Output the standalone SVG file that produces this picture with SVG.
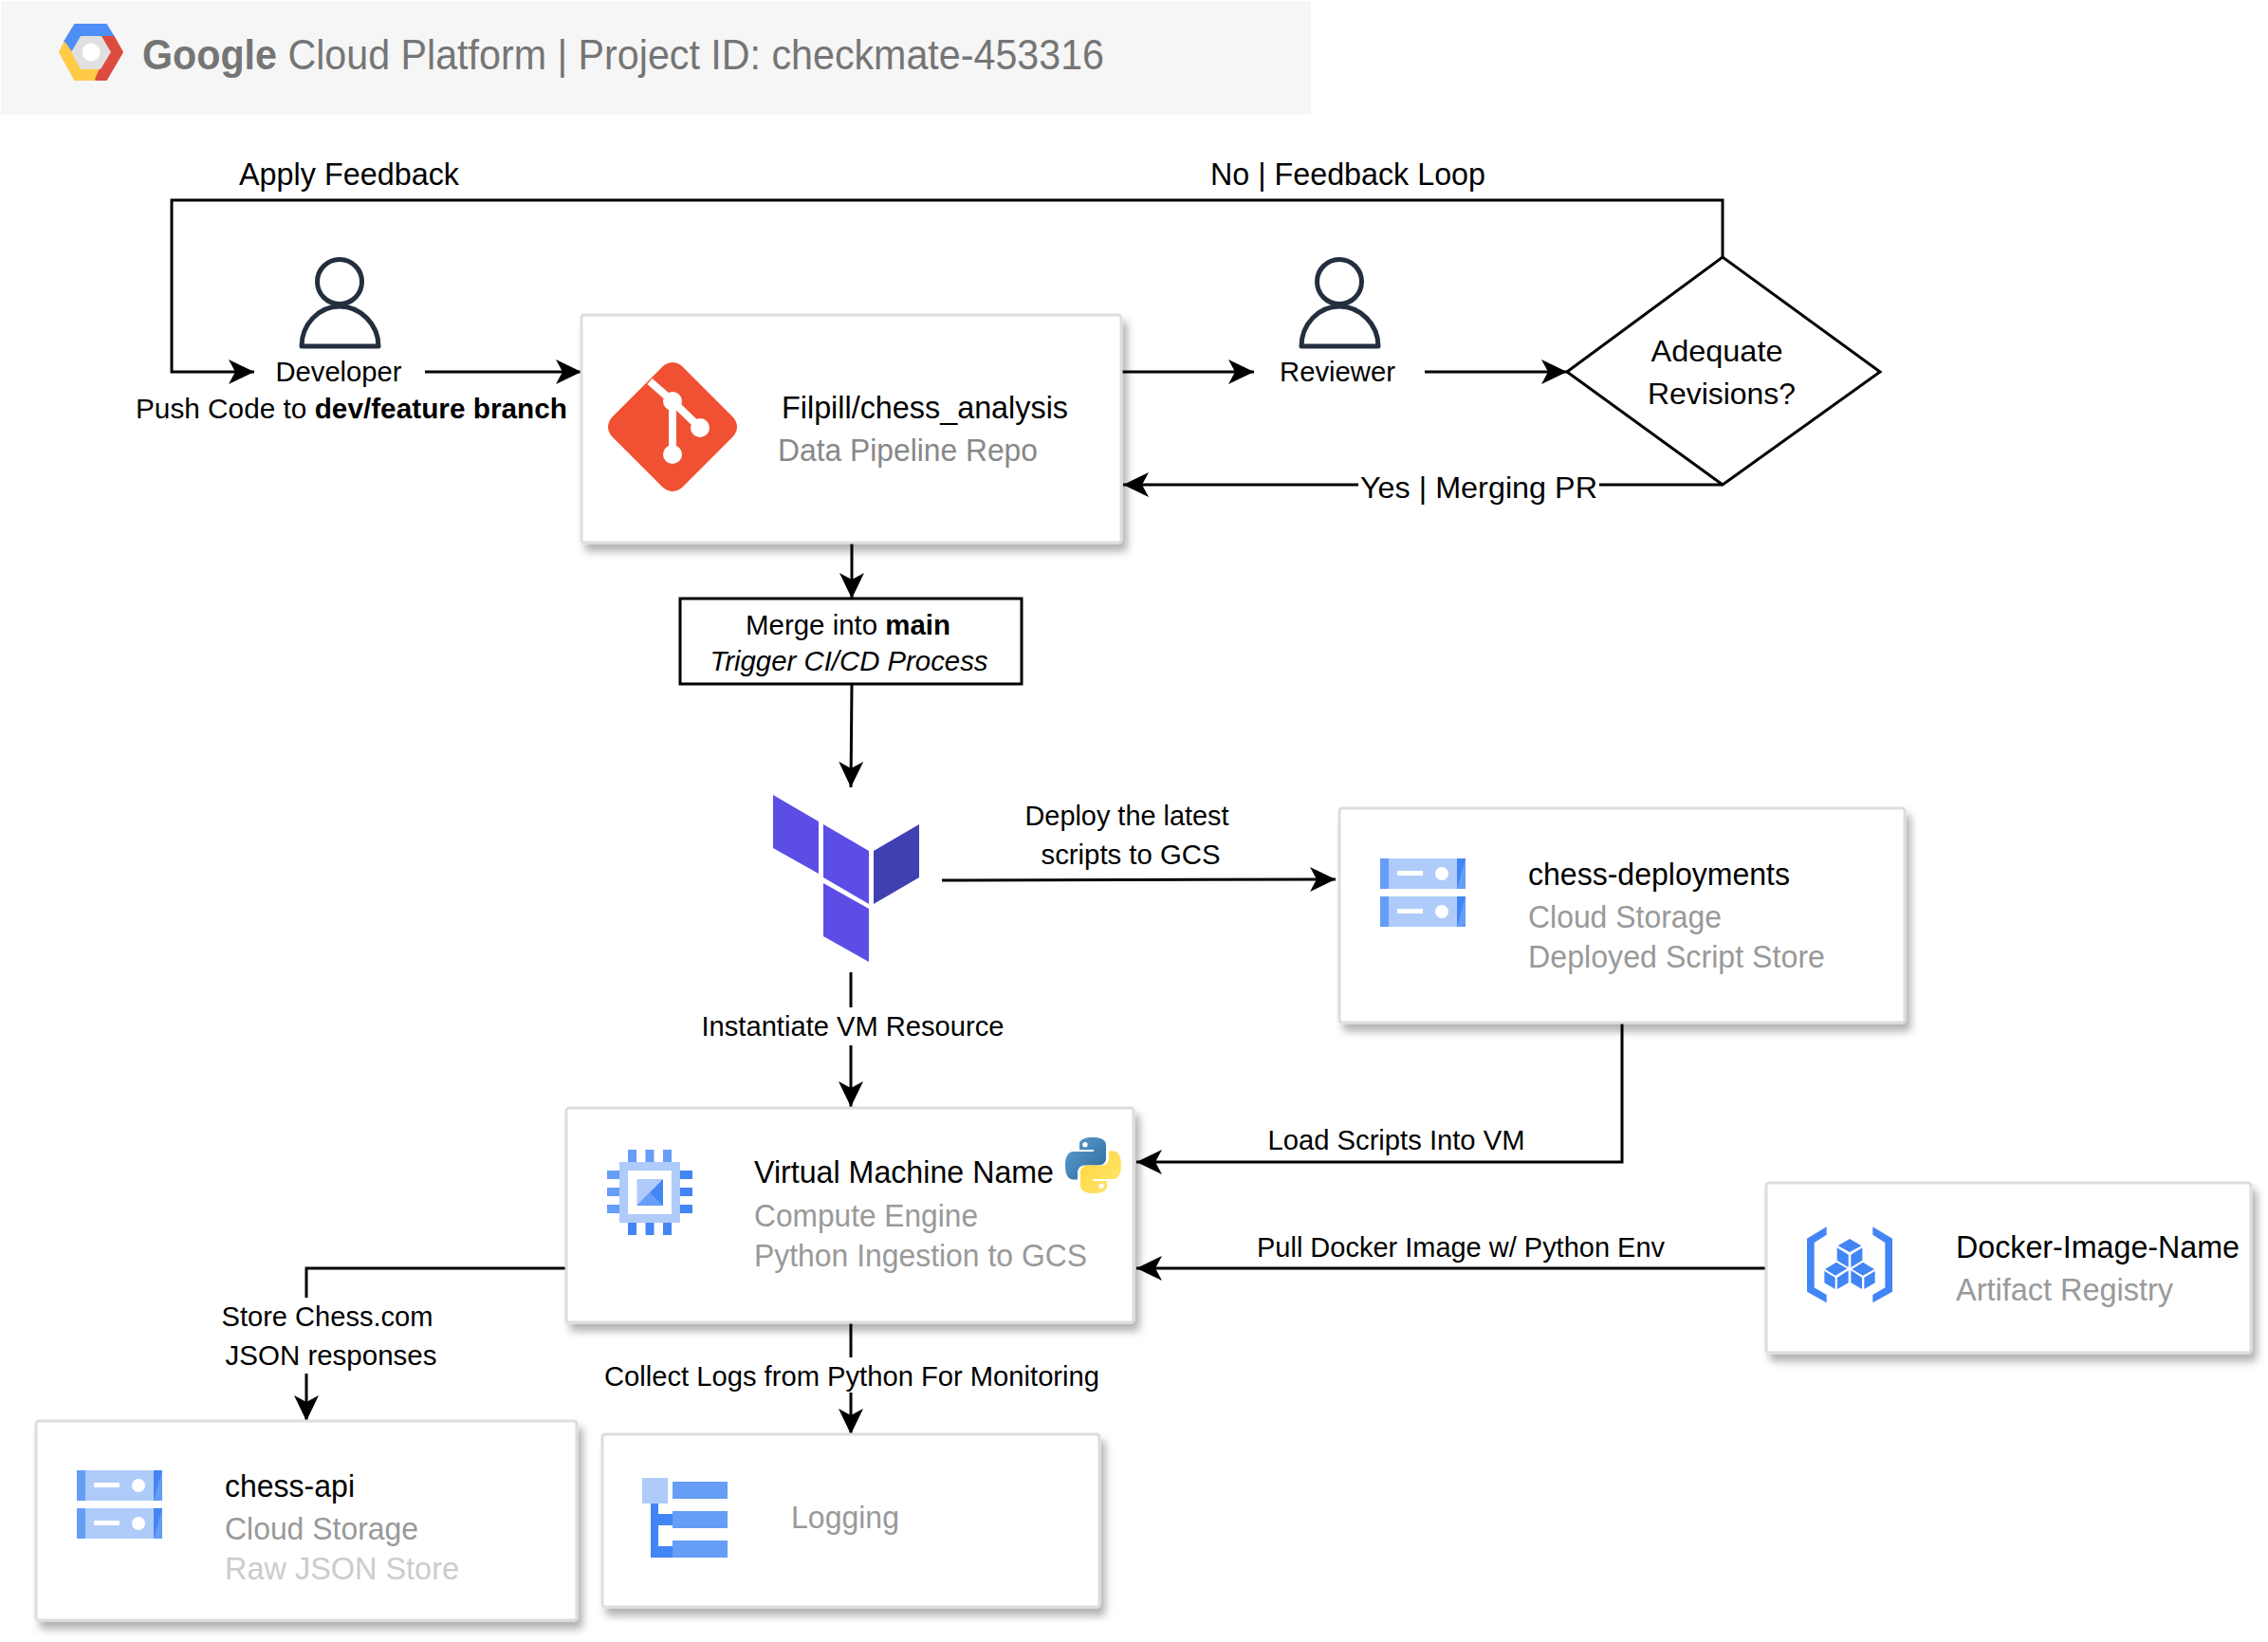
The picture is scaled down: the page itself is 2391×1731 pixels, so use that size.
<svg xmlns="http://www.w3.org/2000/svg" width="2391" height="1731" viewBox="0 0 2391 1731">
<defs>
<style>
text{font-family:"Liberation Sans",Arial,sans-serif;fill:#000}
.l{font-size:30px}
.m{text-anchor:middle}
.t{font-size:33px}
.g{fill:#999}
.gd{fill:#888}
.gl{fill:#ccc}
.card{fill:#fff;stroke:#ddd;stroke-width:3;filter:url(#sh)}
.e{fill:none;stroke:#000;stroke-width:3;marker-end:url(#a)}
.w{fill:#fff}
.p1{fill:#aecbfa}.p2{fill:#669df6}.p3{fill:#4285f4}
.tf{fill:#5c4ee5}
.person{fill:none;stroke:#232f3e;stroke-width:5;stroke-linejoin:round}
</style>
<filter id="sh" x="-5%" y="-5%" width="112%" height="118%"><feDropShadow dx="5" dy="8" stdDeviation="4" flood-color="#000" flood-opacity=".3"/></filter>
<marker id="a" markerUnits="userSpaceOnUse" markerWidth="30" markerHeight="28" refX="27" refY="14" orient="auto"><path d="M0 1L27 14L0 27L7 14Z" fill="#000"/></marker>
<linearGradient id="py1" x1="0" y1="0" x2="1" y2="1"><stop offset="0" stop-color="#5a9fd4"/><stop offset="1" stop-color="#306998"/></linearGradient>
<linearGradient id="py2" x1="0" y1="0" x2="1" y2="1"><stop offset="0" stop-color="#ffe873"/><stop offset="1" stop-color="#ffd43b"/></linearGradient>
<g id="bucket"><rect width="90" height="32" class="p1"/><rect y="40" width="90" height="32" class="p1"/><rect width="9" height="32" class="p2"/><rect y="40" width="9" height="32" class="p2"/><path d="M81 0h9v32h-9z" class="p2"/><path d="M81 40h9v32h-9z" class="p2"/><path d="M81 0h9l-9 32z" class="p3"/><path d="M81 40h9l-9 32z" class="p3"/><rect x="18" y="13" width="27" height="5" class="w"/><circle cx="65" cy="16" r="7" class="w"/><rect x="18" y="53" width="27" height="5" class="w"/><circle cx="65" cy="56" r="7" class="w"/></g>
<g id="person"><circle cx="0" cy="0" r="23.5" class="person"/><path d="M-40 68C-40 45-22 26 0 26S41 45 41 68Z" class="person"/></g>
</defs>
<rect width="2391" height="1731" fill="#fff"/>
<g id="header"><rect x="1" y="1" width="1381" height="120" fill="#f6f6f6"/>
<g stroke-width="2" stroke-linejoin="round">
<path d="M79 26H112L120 39H85L75 55L68 44Z" fill="#4e8ef7" stroke="#4e8ef7"/>
<path d="M68 45L63 55L79 84H99L106 72H85L75 55Z" fill="#ffca45" stroke="#ffca45"/>
<path d="M107 39H120L129 55L112 84H101L106 72L117 55Z" fill="#dd4b3e" stroke="#dd4b3e"/></g>
<path d="M85 38H107L117 55L106 73H85L75 55Z" fill="#e0e0e0"/><circle cx="96" cy="55" r="9.5" fill="#fff"/>
<text x="150" y="73" font-size="45" textLength="1014" lengthAdjust="spacingAndGlyphs" style="fill:#757575"><tspan font-weight="bold">Google</tspan> Cloud Platform | Project ID: checkmate-453316</text></g>
<g id="connectors">
<path class="e" d="M1816 271V211H181V392H268"/>
<path class="e" d="M448 392H613"/>
<path class="e" d="M1182 392H1322"/>
<path class="e" d="M1502 392H1652"/>
<path class="e" d="M1816 511H1184"/>
<path class="e" d="M898 572V631"/>
<path class="e" d="M898 721L897 830"/>
<path class="e" d="M993 928L1408 927"/>
<path class="e" d="M897 1025V1167"/>
<path class="e" d="M1710 1078V1225H1198"/>
<path class="e" d="M1862 1337H1198"/>
<path class="e" d="M597 1337H323V1498"/>
<path class="e" d="M897 1394V1512"/>
</g>
<g id="labels">
<rect x="1432" y="490" width="254" height="42" class="w"/><text class="m" x="1559" y="525" font-size="32" textLength="250" lengthAdjust="spacingAndGlyphs">Yes | Merging PR</text>
<rect x="732" y="1062" width="330" height="40" class="w"/><text class="l m" x="899" y="1092" textLength="319" lengthAdjust="spacingAndGlyphs">Instantiate VM Resource</text>
<rect x="225" y="1368" width="240" height="80" class="w"/><text class="l m" x="345" y="1398" textLength="223" lengthAdjust="spacingAndGlyphs">Store Chess.com</text><text class="l m" x="349" y="1439" textLength="223" lengthAdjust="spacingAndGlyphs">JSON responses</text>
<rect x="637" y="1431" width="522" height="37" class="w"/><text class="l m" x="898" y="1461" textLength="522" lengthAdjust="spacingAndGlyphs">Collect Logs from Python For Monitoring</text>
<text class="l m" x="1472" y="1212" textLength="271" lengthAdjust="spacingAndGlyphs">Load Scripts Into VM</text>
<text class="l m" x="1540" y="1325" textLength="430" lengthAdjust="spacingAndGlyphs">Pull Docker Image w/ Python Env</text>
<text class="l m" x="1188" y="870" textLength="215" lengthAdjust="spacingAndGlyphs">Deploy the latest</text><text class="l m" x="1192" y="911" textLength="189" lengthAdjust="spacingAndGlyphs">scripts to GCS</text>
<text class="t" x="252" y="195" textLength="232" lengthAdjust="spacingAndGlyphs">Apply Feedback</text>
<text class="t" x="1276" y="195" textLength="290" lengthAdjust="spacingAndGlyphs">No | Feedback Loop</text>
<text class="l" x="143" y="441" textLength="455" lengthAdjust="spacingAndGlyphs">Push Code to <tspan font-weight="bold">dev/feature branch</tspan></text>
</g>
<g id="developer"><use href="#person" x="358" y="297"/><text class="l m" x="357" y="402" textLength="133" lengthAdjust="spacingAndGlyphs">Developer</text></g>
<g id="reviewer"><use href="#person" x="1412" y="297"/><text class="l m" x="1410" y="402" textLength="122" lengthAdjust="spacingAndGlyphs">Reviewer</text></g>
<g id="repo"><rect class="card" x="613" y="332" width="569" height="240" rx="3"/>
<path d="M699 386Q709 378 719 386L773 440Q781 450 773 460L719 514Q709 522 699 514L645 460Q637 450 645 440Z" fill="#f05133"/>
<path d="M685 402L709 423L738 451M709 423V479" fill="none" stroke="#fff" stroke-width="8"/><circle cx="709" cy="423" r="10" class="w"/><circle cx="738" cy="451" r="10" class="w"/><circle cx="709" cy="479" r="10" class="w"/>
<text class="t" x="824" y="441" textLength="302" lengthAdjust="spacingAndGlyphs">Filpill/chess_analysis</text><text class="t gd" x="820" y="486" textLength="274" lengthAdjust="spacingAndGlyphs">Data Pipeline Repo</text></g>
<g id="decision"><path d="M1652 392L1816 271L1982 392L1816 511Z" fill="#fff" stroke="#000" stroke-width="3"/><text class="m" x="1810" y="381" font-size="32" textLength="139" lengthAdjust="spacingAndGlyphs">Adequate</text><text class="m" x="1815" y="426" font-size="32" textLength="156" lengthAdjust="spacingAndGlyphs">Revisions?</text></g>
<g id="merge"><rect x="717" y="631" width="360" height="90" fill="#fff" stroke="#000" stroke-width="3"/><text class="l m" x="894" y="669" textLength="216" lengthAdjust="spacingAndGlyphs">Merge into <tspan font-weight="bold">main</tspan></text><text class="l m" x="895" y="707" font-style="italic" textLength="293" lengthAdjust="spacingAndGlyphs">Trigger CI/CD Process</text></g>
<g id="terraform"><path class="tf" d="M815 838L863 866V921L815 894Z M868 869L916 897V953L868 925Z M868 931L916 958V1014L868 987Z"/><path d="M921 897L969 869V925L921 953Z" fill="#4040b2"/></g>
<g id="deployments"><rect class="card" x="1412" y="852" width="596" height="226" rx="3"/><use href="#bucket" x="1455" y="905"/><text class="t" x="1611" y="933" textLength="276" lengthAdjust="spacingAndGlyphs">chess-deployments</text><text class="t g" x="1611" y="978" textLength="204" lengthAdjust="spacingAndGlyphs">Cloud Storage</text><text class="t g" x="1611" y="1020" textLength="313" lengthAdjust="spacingAndGlyphs">Deployed Script Store</text></g>
<g id="vm"><rect class="card" x="597" y="1168" width="598" height="226" rx="3"/>
<g class="p2"><rect x="662" y="1212" width="9" height="13"/><rect x="680.5" y="1212" width="9" height="13"/><rect x="699" y="1212" width="9" height="13"/><rect x="640" y="1234" width="13" height="9"/><rect x="640" y="1252" width="13" height="9"/><rect x="640" y="1270" width="13" height="9"/></g>
<g class="p3"><rect x="662" y="1289" width="9" height="13"/><rect x="680.5" y="1289" width="9" height="13"/><rect x="699" y="1289" width="9" height="13"/><rect x="717" y="1234" width="13" height="9"/><rect x="717" y="1252" width="13" height="9"/><rect x="717" y="1270" width="13" height="9"/></g>
<rect x="653" y="1225" width="64" height="64" class="p1"/><rect x="662" y="1234" width="46" height="46" class="w"/><rect x="671.5" y="1243" width="27.5" height="28" class="p1"/><path d="M671.5 1271L699 1243V1271Z" class="p3"/><path d="M671.5 1271L685 1257L699 1271Z" class="p2"/>
<text class="t" x="795" y="1247" textLength="316" lengthAdjust="spacingAndGlyphs">Virtual Machine Name</text><text class="t g" x="795" y="1293" textLength="236" lengthAdjust="spacingAndGlyphs">Compute Engine</text><text class="t g" x="795" y="1335" textLength="351" lengthAdjust="spacingAndGlyphs">Python Ingestion to GCS</text>
<g transform="translate(1123 1199)"><path fill="url(#py1)" fill-rule="evenodd" d="M29 0C15 0 15 6.5 15 6.5V13H30V15H9C9 15 0 14 0 29.5S8 44.5 8 44.5H13V37.5S12.7 29.5 21 29.5H35S43 29.6 43 22V8S44 0 29 0ZM21 5A2.7 2.7 0 1 1 20.9 10.4A2.7 2.7 0 1 1 21 5Z"/><path fill="url(#py2)" fill-rule="evenodd" transform="rotate(180 29.5 29.5)" d="M29 0C15 0 15 6.5 15 6.5V13H30V15H9C9 15 0 14 0 29.5S8 44.5 8 44.5H13V37.5S12.7 29.5 21 29.5H35S43 29.6 43 22V8S44 0 29 0ZM21 5A2.7 2.7 0 1 1 20.9 10.4A2.7 2.7 0 1 1 21 5Z"/></g></g>
<g id="registry"><rect class="card" x="1862" y="1247" width="511" height="179" rx="3"/>
<g transform="translate(1860 1240) scale(.33333)" class="p3"><path d="M197 160L135 197V365L197 400V375L158 352V210L197 185Z M343 160L405 197V365L343 400V375L382 352V210L343 185Z M270 198L307 220L270 240L233 220Z M230 226L266 248V288L230 266Z M274 248L310 226V266L274 288Z M228 272L262 292L225 314L192 294Z M190 300L224 320V357L190 337Z M231 320L266 298V337L231 357Z M312 272L348 294L312 314L277 294Z M274 298L309 320V357L274 337Z M316 320L350 300V337L316 357Z"/></g>
<text class="t" x="2062" y="1326" textLength="299" lengthAdjust="spacingAndGlyphs">Docker-Image-Name</text><text class="t g" x="2062" y="1371" textLength="229" lengthAdjust="spacingAndGlyphs">Artifact Registry</text></g>
<g id="chess-api"><rect class="card" x="38" y="1498" width="570" height="210" rx="3"/><use href="#bucket" x="81" y="1550"/><text class="t" x="237" y="1578" textLength="137" lengthAdjust="spacingAndGlyphs">chess-api</text><text class="t g" x="237" y="1623" textLength="204" lengthAdjust="spacingAndGlyphs">Cloud Storage</text><text class="t gl" x="237" y="1665" textLength="247" lengthAdjust="spacingAndGlyphs">Raw JSON Store</text></g>
<g id="logging"><rect class="card" x="635" y="1512" width="524" height="182" rx="3"/><path d="M686 1585H694V1630H709V1642H686Z M694 1596H709V1608H694Z" class="p3"/><rect x="677" y="1558" width="27" height="27" class="p1"/><rect x="709" y="1562" width="58" height="18" class="p2"/><rect x="709" y="1593" width="58" height="18" class="p2"/><rect x="709" y="1624" width="58" height="18" class="p2"/><text class="t g" x="834" y="1611" textLength="114" lengthAdjust="spacingAndGlyphs">Logging</text></g>
</svg>
